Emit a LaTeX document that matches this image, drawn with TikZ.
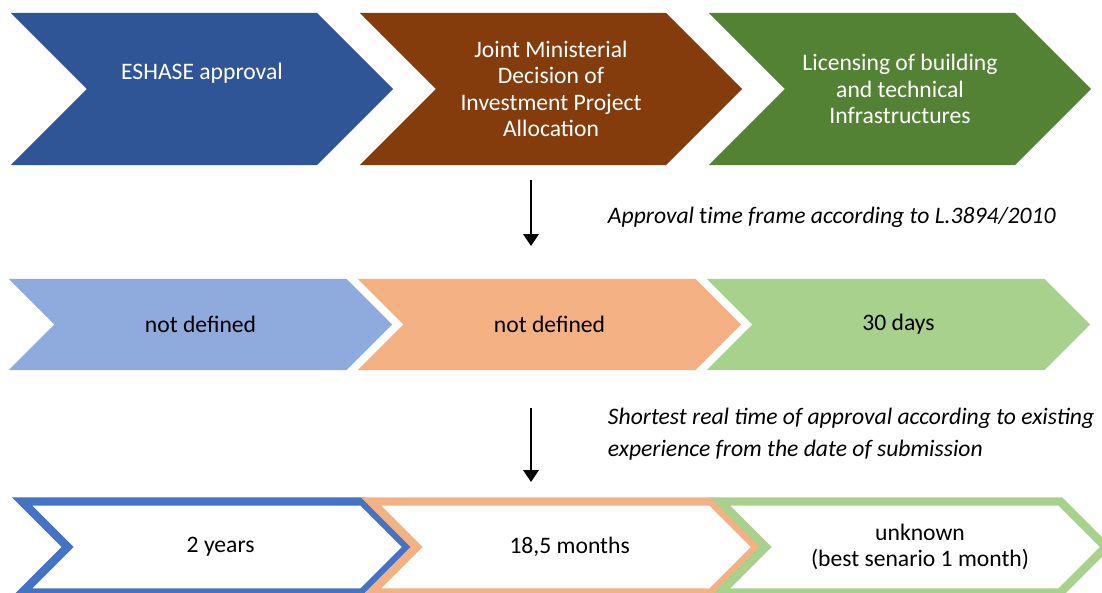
\documentclass[tikz,border=0pt]{standalone}
\usepackage{fontspec}
\setmainfont{Carlito}
\usetikzlibrary{shapes.symbols,arrows.meta}

\definecolor{stepblue}{HTML}{2F5597}
\definecolor{stepbrown}{HTML}{843C0C}
\definecolor{stepgreen}{HTML}{548235}
\definecolor{lightblue}{HTML}{8FAADC}
\definecolor{lightorange}{HTML}{F4B183}
\definecolor{lightgreen}{HTML}{A9D18E}
\definecolor{lineblue}{HTML}{4472C4}

\begin{document}
\begin{tikzpicture}[
  x=0.025cm, y=-0.025cm,
  chevron/.style={signal, signal to=east, signal from=west, signal pointer angle=90,
    inner sep=0pt, text centered, align=center, font=\fontsize{16.8}{18.7}\selectfont},
  stagebox/.style={chevron, fill=#1, text=white, minimum width=9.55cm, minimum height=3.8cm},
  limitbox/.style={chevron, fill=#1, minimum width=9.575cm, minimum height=2.275cm},
  realbox/.style={chevron, draw=#1, line width=6pt, minimum width=9.64cm, minimum height=2.275cm},
  note/.style={anchor=west, align=left, font=\fontsize{16.8}{22.7}\selectfont\itshape},
  arrow/.style={-{Triangle[width=11pt,length=8.5pt]}, line width=1.5pt}
]
  \useasboundingbox (0,0) rectangle (1102,592);

  % stages
  \node[stagebox=stepblue] (eshase) at (202,89) {ESHASE approval\\[7pt]\mbox{}};
  \node[stagebox=stepbrown] (jmd) at (551,89) {Joint Ministerial\\Decision of\\Investment Project\\Allocation};
  \node[stagebox=stepgreen] (licence) at (900,89) {Licensing of building\\and technical\\Infrastructures};

  % legal time frame
  \node[limitbox=lightblue] (eshaselaw) at (200.5,324.5) {not defined};
  \node[limitbox=lightorange] (jmdlaw) at (549.5,324.5) {not defined};
  \node[limitbox=lightgreen] (licencelaw) at (898.5,324.5) {30 days};

  % real time frame
  \node[realbox=lineblue] (eshasereal) at (215,547) {\hspace{8pt}2 years};
  \node[realbox=lightorange] (jmdreal) at (564,547) {\hspace{8pt}18,5 months};
  \node[realbox=lightgreen] (licencereal) at (913,547) {\hspace{10pt}unknown\\\hspace{10pt}(best senario 1 month)};

  \coordinate (lawfrom) at (531,180);
  \coordinate (lawto) at (531,246);
  \coordinate (realfrom) at (531,408);
  \coordinate (realto) at (531,482);
  \draw[arrow] (lawfrom) -- (lawto);
  \draw[arrow] (realfrom) -- (realto);

  \node[note] (lawnote) at (603,217) {Approval \textup{t}ime frame according to L.3894/2010};
  \node[note] (realnote) at (603,434) {Shortest real time of approval according to existing\\experience from the date of submission};
\end{tikzpicture}
\end{document}
